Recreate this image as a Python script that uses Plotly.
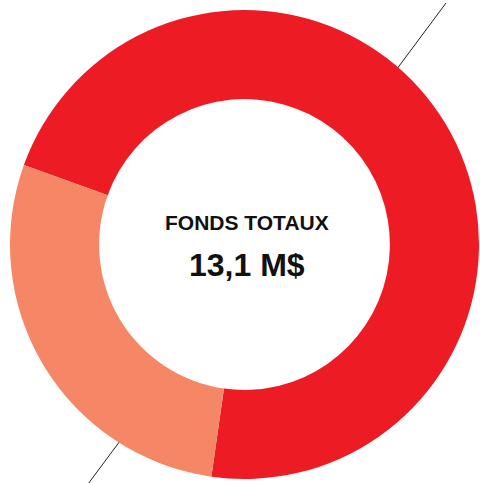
import plotly.graph_objects as go

labels = ["Segment A", "Segment B"]
values = [9.4, 3.7]
colors = ["#ED1C24", "#F58767"]
title_text = "FONDS TOTAUX"
total_text = "13,1 M$"

W, H = 480, 483

fig = go.Figure()
fig.add_trace(go.Pie(
    labels=labels, values=values, sort=False, direction="clockwise",
    rotation=-70.2, hole=0.62,
    marker=dict(colors=colors, line=dict(width=0)),
    textinfo="none", hoverinfo="none", showlegend=False,
    domain=dict(x=[10 / W, 479 / W], y=[(H - 479) / H, (H - 10) / H]),
))

# thin diagonal line behind the donut
fig.add_shape(type="line", xref="paper", yref="paper",
              x0=446 / W, y0=1 - 3 / H, x1=88 / W, y1=1 - 484 / H,
              line=dict(color="#222222", width=1), layer="below")
# white disk to hide line inside the hole
cx, cy, r = 245, 246, 146
fig.add_shape(type="circle", xref="paper", yref="paper",
              x0=(cx - r) / W, x1=(cx + r) / W,
              y0=1 - (cy + r) / H, y1=1 - (cy - r) / H,
              fillcolor="white", line=dict(width=0), layer="below")

fig.add_annotation(text="<b>" + title_text + "</b>", x=247 / W, y=1 - 222.5 / H,
                   xref="paper", yref="paper", showarrow=False,
                   xanchor="center", yanchor="middle",
                   font=dict(family="Liberation Sans, Arial", size=21, color="#111111"))
fig.add_annotation(text="<b>" + total_text + "</b>", x=247 / W, y=1 - 264.5 / H,
                   xref="paper", yref="paper", showarrow=False,
                   xanchor="center", yanchor="middle",
                   font=dict(family="Liberation Sans, Arial", size=32, color="#111111"))

fig.update_layout(width=W, height=H, margin=dict(l=0, r=0, t=0, b=0),
                  paper_bgcolor="white", plot_bgcolor="white")
fig.write_html("out.html")
